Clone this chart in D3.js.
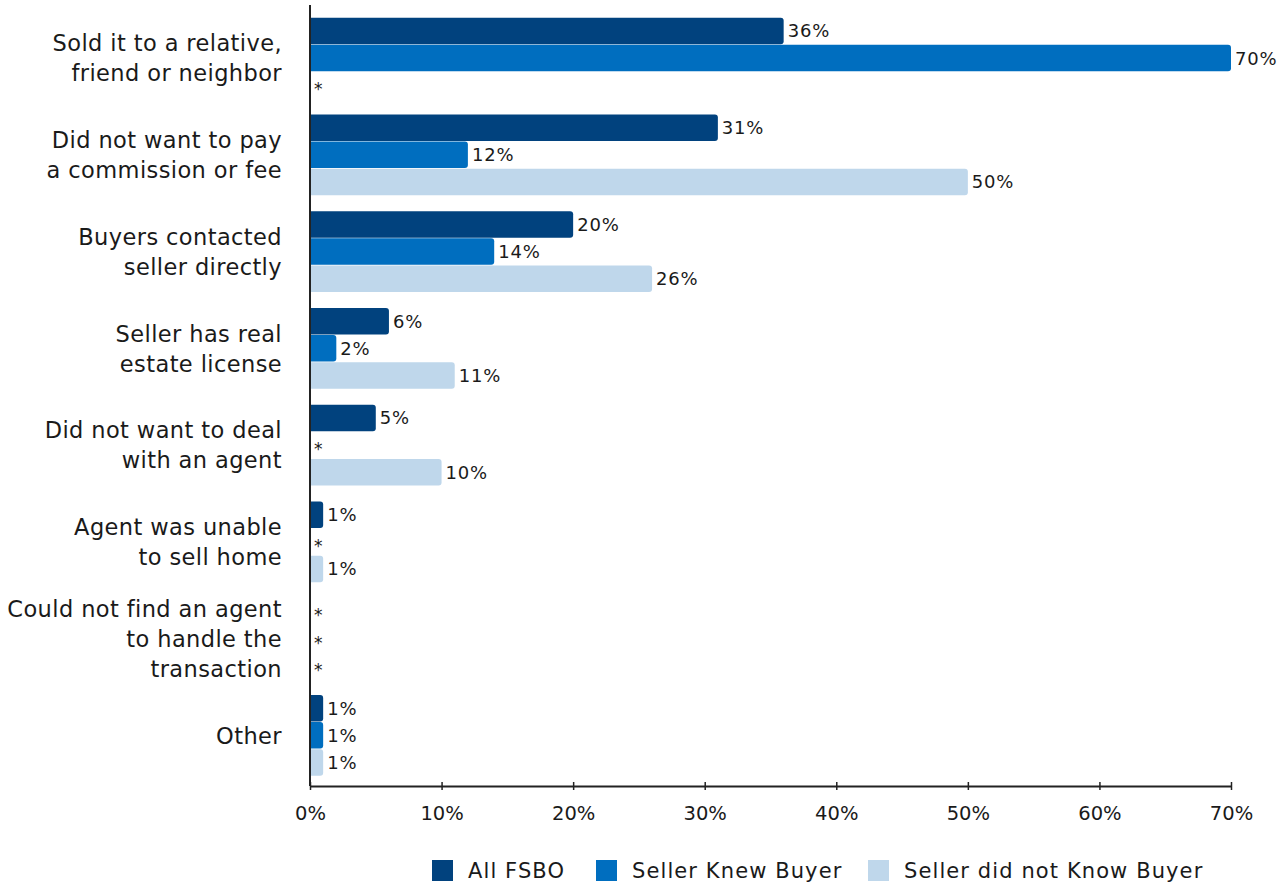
<!DOCTYPE html>
<html><head><meta charset="utf-8">
<script src="https://cdn.jsdelivr.net/npm/d3@7"></script>
<style>
body{margin:0;background:#fff;}
text{font-family:"DejaVu Sans",sans-serif;fill:#1a1a1a;}
</style></head>
<body><svg id="c" width="1284" height="888"></svg>
<script>
const categories = [
  ["Sold it to a relative,","friend or neighbor"],
  ["Did not want to pay","a commission or fee"],
  ["Buyers contacted","seller directly"],
  ["Seller has real","estate license"],
  ["Did not want to deal","with an agent"],
  ["Agent was unable","to sell home"],
  ["Could not find an agent","to handle the","transaction"],
  ["Other"]
];
const seriesNames = ["All FSBO","Seller Knew Buyer","Seller did not Know Buyer"];
const allFSBO = [36,31,20,6,5,1,null,1];
const sellerKnew = [70,12,14,2,null,null,null,1];
const sellerNotKnow = [null,50,26,11,10,1,null,1];
const xTicks = [0,10,20,30,40,50,60,70];
const colors = ["#01427e","#006ebf","#bfd7eb"];

const series = [allFSBO, sellerKnew, sellerNotKnow];
const svg = d3.select("#c");
const x = d3.scaleLinear().domain([0,70]).range([310,1231]);
const y = d3.scaleBand().domain(d3.range(categories.length)).range([10,784]).paddingInner(0.16).paddingOuter(0.08);
const ys = d3.scaleBand().domain(d3.range(3)).range([0,y.bandwidth()]);

// bars
categories.forEach((c,i)=>{
  const g = svg.append("g").attr("transform",`translate(0,${y(i)})`);
  series.forEach((s,j)=>{
    const v = s[i];
    const y0 = ys(j), h = ys.bandwidth()-0.6;
    if(v==null){
      g.append("text").attr("x",x(0)+4).attr("y",y0+h/2+10).attr("font-size",17).text("*");
    } else {
      const w = x(v)-x(0), r = Math.min(3,w/2);
      g.append("path").attr("fill",colors[j])
        .attr("d",`M${x(0)},${y0}H${x(0)+w-r}Q${x(0)+w},${y0} ${x(0)+w},${y0+r}V${y0+h-r}Q${x(0)+w},${y0+h} ${x(0)+w-r},${y0+h}H${x(0)}Z`);
      g.append("text").attr("x",x(v)+4).attr("y",y0+h/2).attr("dy","0.36em").attr("font-size",18).attr("letter-spacing",0.8).text(v+"%");
    }
  });
});

// y axis line
svg.append("line").attr("x1",310).attr("x2",310).attr("y1",5).attr("y2",786).attr("stroke","#222").attr("stroke-width",2);

// category labels
categories.forEach((lines,i)=>{
  const cy = y(i)+y.bandwidth()/2;
  const lh = 30;
  const t = svg.append("text").attr("text-anchor","end").attr("font-size",22.5).attr("letter-spacing",0.4);
  lines.forEach((l,k)=>{
    t.append("tspan").attr("x",282).attr("y",cy+(k-(lines.length-1)/2)*lh).attr("dy","0.35em").text(l);
  });
});

// x axis
const xa = svg.append("g").attr("transform","translate(0,786)")
  .call(d3.axisBottom(x).tickValues(xTicks).tickFormat(d=>d+"%").tickSize(7).tickSizeOuter(0));
xa.select(".domain").attr("stroke","#222").attr("stroke-width",2);
xa.selectAll(".tick line").attr("stroke","#222").attr("stroke-width",1.5).attr("y1",-4).attr("y2",4);
xa.selectAll(".tick text").attr("font-size",19.5).attr("font-family","DejaVu Sans").attr("fill","#1a1a1a").attr("y",20);

// legend
const lx = [432,596,868];
seriesNames.forEach((n,j)=>{
  svg.append("rect").attr("x",lx[j]).attr("y",860).attr("width",21).attr("height",21).attr("fill",colors[j]);
  svg.append("text").attr("x",lx[j]+36).attr("y",871).attr("dy","0.35em").attr("font-size",21).attr("letter-spacing",1.1).text(n);
});
</script></body></html>
